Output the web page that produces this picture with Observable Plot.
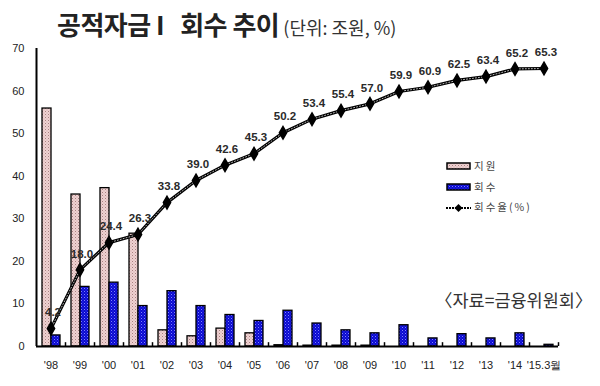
<!DOCTYPE html>
<html>
<head>
<meta charset="utf-8">
<script src="https://cdn.jsdelivr.net/npm/d3@7"></script>
<script src="https://cdn.jsdelivr.net/npm/@observablehq/plot@0.6"></script>
<style>
  html, body { margin: 0; padding: 0; background: white; }
  #wrap { position: relative; width: 600px; height: 386px; overflow: hidden; }
  #chart { position: absolute; left: 0; top: 0; }
  .title { position: absolute; left: 57px; top: 9px; white-space: pre; font-family: "Noto Sans CJK KR", sans-serif; color: #222; line-height: 30px; }
  .title .big { font-size: 26px; font-weight: 700; letter-spacing: -0.5px; }
  .title .gap { display: inline-block; width: 16px; }
  .title .small { font-size: 18px; font-weight: 400; color: #333; }
  .legend { position: absolute; left: 446px; top: 159px; font-family: "Noto Sans CJK KR", sans-serif; font-size: 10.5px; color: #444; letter-spacing: 2px; }
  .legend .row { position: relative; height: 20.5px; width: 120px; }
  .legend svg { position: absolute; left: 0; top: 3px; }
  .legend span { position: absolute; left: 28px; top: 0; line-height: 14px; white-space: nowrap; }
  .source { position: absolute; left: 435px; top: 287px; font-family: "Noto Sans CJK KR", sans-serif; font-size: 17.5px; color: #333; white-space: pre; }
</style>
</head>
<body>
<svg width="0" height="0" style="position:absolute">
  <defs>
    <pattern id="pinkPat" width="3" height="3" patternUnits="userSpaceOnUse">
      <rect width="3" height="3" fill="#efd2d2"></rect>
      <rect x="0" y="0" width="1" height="1" fill="#a88080"></rect>
      <rect x="1.5" y="1.5" width="1" height="1" fill="#c9a5a5"></rect>
    </pattern>
    <pattern id="bluePat" width="3" height="3" patternUnits="userSpaceOnUse">
      <rect width="3" height="3" fill="#0a0ad0"></rect>
      <rect x="0" y="0" width="1" height="1" fill="#8080ff"></rect>
      <rect x="1.5" y="1.5" width="1" height="1" fill="#4a4aee"></rect>
    </pattern>
  </defs>
</svg>
<div id="wrap">
  <div id="chart"></div>
  <div class="title"><span class="big">공적자금 I<span class="gap"></span>회수 추이</span><span class="small"> (단위: 조원, %)</span></div>
  <div class="legend">
    <div class="row"><svg width="26" height="9"><rect x="1" y="1" width="23" height="6" fill="url(#pinkPat)" stroke="black" stroke-width="1.5"></rect></svg><span>지원</span></div>
    <div class="row"><svg width="26" height="9"><rect x="1" y="1" width="23" height="6" fill="url(#bluePat)" stroke="black" stroke-width="1.5"></rect></svg><span>회수</span></div>
    <div class="row"><svg width="26" height="11"><line x1="0" y1="5" x2="25" y2="5" stroke="black" stroke-width="2" stroke-dasharray="2,1"></line><path d="M12.5,1 L16.5,5 L12.5,9 L8.5,5 Z" fill="black"></path></svg><span>회수율(%)</span></div>
  </div>
  <div class="source">〈자료=금융위원회〉</div>
</div>
<script>
const categories = ["'98","'99","'00","'01","'02","'03","'04","'05","'06","'07","'08","'09","'10","'11","'12","'13","'14","'15.3월"];
const support    = [55.9, 35.7, 37.2, 26.5, 3.8, 2.4, 4.2, 3.1, 0.3, 0.2, 0.2, 0.2, 0, 0, 0, 0, 0, 0];
const recovery   = [2.6, 14.0, 15.0, 9.5, 13.0, 9.5, 7.4, 6.0, 8.4, 5.4, 3.8, 3.1, 5.0, 1.9, 2.9, 1.9, 3.1, 0.4];
const rate       = [4.2, 18.0, 24.4, 26.3, 33.8, 39.0, 42.6, 45.3, 50.2, 53.4, 55.4, 57.0, 59.9, 60.9, 62.5, 63.4, 65.2, 65.3];
const yTicks     = [0, 10, 20, 30, 40, 50, 60, 70];

const rows = categories.map((c, i) => ({cat: c, support: support[i], recovery: recovery[i], rate: rate[i]}));

const chart = Plot.plot({
  width: 600,
  height: 386,
  marginLeft: 36,
  marginRight: 42,
  marginTop: 48,
  marginBottom: 40,
  style: {fontFamily: "'Liberation Sans', Arial, sans-serif", fontSize: "11px", color: "#222", background: "white"},
  x: {domain: categories, padding: 0, tickSize: 0, tickPadding: 15, label: null},
  y: {domain: [0, 70], ticks: yTicks, tickSize: 0, tickPadding: 12, label: null},
  marks: [
    Plot.barY(rows.filter(d => d.support > 0), {x: "cat", y: "support", fill: "url(#pinkPat)", stroke: "black", strokeWidth: 1.3, insetLeft: 6, insetRight: 14}),
    Plot.barY(rows.filter(d => d.recovery > 0), {x: "cat", y: "recovery", fill: "url(#bluePat)", stroke: "black", strokeWidth: 1.3, insetLeft: 15, insetRight: 5}),
    Plot.ruleY([0], {stroke: "black", strokeWidth: 2}),
    Plot.ruleX([categories[0]], {dx: -14.5, y1: 0, y2: 70, stroke: "black", strokeWidth: 2}),
    Plot.ruleX(categories, {x: d => d, dx: 14.5, y1: 0, y2: 0.9, stroke: "black", strokeWidth: 1.5}),
    Plot.line(rows, {x: "cat", y: "rate", stroke: "black", strokeWidth: 3.2}),
    Plot.line(rows, {x: "cat", y: "rate", stroke: "#bbb", strokeWidth: 1, strokeDasharray: "1,2"}),
    Plot.dot(rows, {x: "cat", y: "rate", symbol: "diamond", r: 3.8, fill: "black", stroke: "black"}),
    Plot.text(rows, {x: "cat", y: "rate", text: d => d.rate.toFixed(1), dy: -16, dx: 2, fontSize: 11.5, fontWeight: "bold", fill: "#2a2a2a"})
  ]
});
document.getElementById("chart").appendChild(chart);
</script>
</body>
</html>
